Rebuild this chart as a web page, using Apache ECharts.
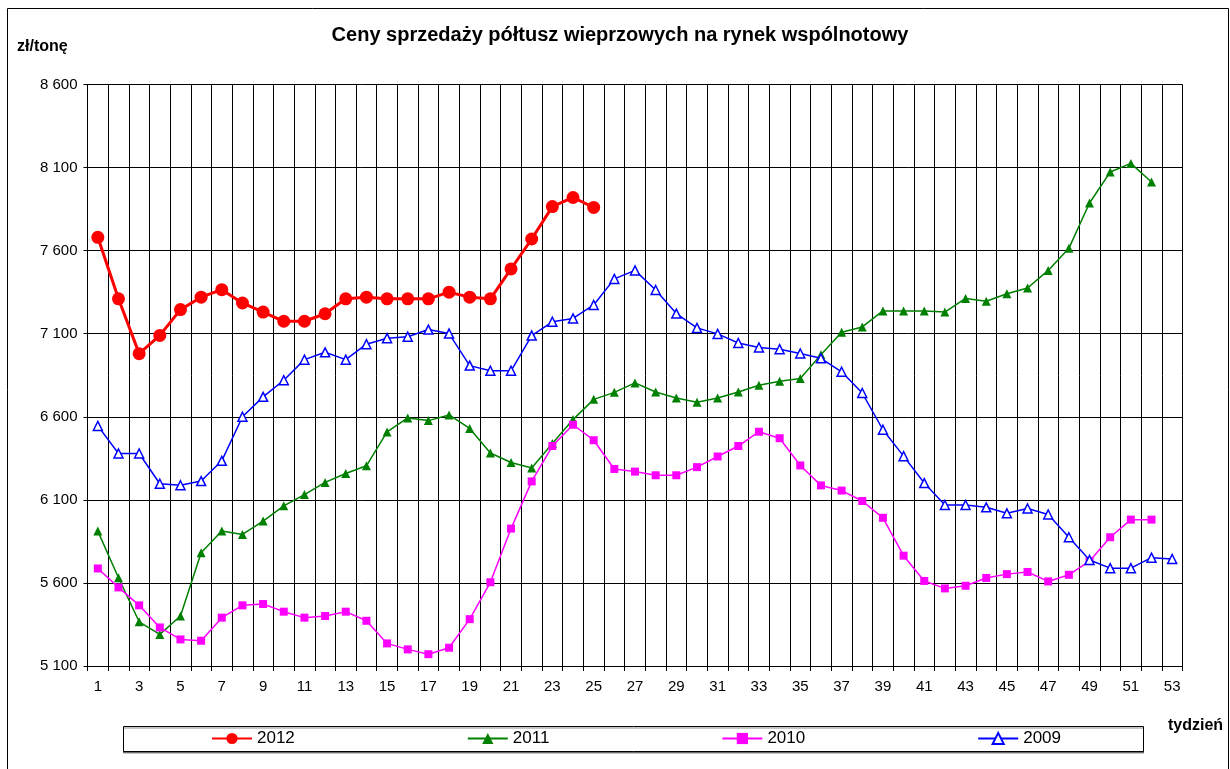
<!DOCTYPE html>
<html>
<head>
<meta charset="utf-8">
<script src="https://cdn.jsdelivr.net/npm/echarts@6/dist/echarts.min.js"></script>
<style>
html,body{margin:0;padding:0;background:#fff;}
#chart{width:1230px;height:769px;}
</style>
</head>
<body>
<div id="chart"></div>
<script>
const weeks = ['1','2','3','4','5','6','7','8','9','10','11','12','13','14','15','16','17','18','19','20','21','22','23','24','25','26','27','28','29','30','31','32','33','34','35','36','37','38','39','40','41','42','43','44','45','46','47','48','49','50','51','52','53'];

const s2012 = [7680, 7310, 6980, 7090, 7245, 7320, 7365, 7285, 7230, 7175, 7175, 7220, 7310, 7320, 7310, 7310, 7310, 7350, 7320, 7310, 7490, 7670, 7865, 7920, 7860];

const s2011 = [5912, 5631, 5366, 5290, 5401, 5781, 5912, 5892, 5972, 6064, 6132, 6205, 6259, 6305, 6509, 6593, 6577, 6611, 6530, 6382, 6325, 6292, 6439, 6583, 6705, 6747, 6804, 6749, 6713, 6688, 6713, 6749, 6790, 6814, 6831, 6973, 7109, 7141, 7237, 7237, 7237, 7230, 7312, 7295, 7341, 7375, 7481, 7614, 7887, 8073, 8125, 8013];

const s2010 = [5687, 5573, 5465, 5332, 5260, 5252, 5391, 5465, 5473, 5427, 5391, 5401, 5427, 5372, 5236, 5200, 5171, 5210, 5382, 5604, 5927, 6211, 6424, 6552, 6459, 6286, 6270, 6248, 6248, 6297, 6361, 6424, 6510, 6471, 6307, 6187, 6156, 6093, 5992, 5764, 5612, 5567, 5583, 5630, 5653, 5666, 5609, 5649, 5731, 5875, 5981, 5981];

const s2009 = [6545, 6379, 6379, 6197, 6188, 6213, 6335, 6600, 6720, 6820, 6944, 6988, 6944, 7037, 7073, 7082, 7125, 7101, 6908, 6877, 6877, 7089, 7172, 7192, 7273, 7430, 7481, 7363, 7221, 7135, 7099, 7044, 7017, 7007, 6981, 6952, 6871, 6743, 6522, 6363, 6201, 6069, 6069, 6055, 6019, 6048, 6012, 5875, 5738, 5689, 5689, 5752, 5744];

const seriesNames = ['2012', '2011', '2010', '2009'];
const titleText = 'Ceny sprzedaży półtusz wieprzowych na rynek wspólnotowy';
const yUnit = 'zł/tonę';
const xUnit = 'tydzień';

const FONT = '"Liberation Sans", Arial, sans-serif';
const chart = echarts.init(document.getElementById('chart'), null, {renderer: 'canvas'});

function fmt(v) {
  return String(v).replace(/\B(?=(\d{3})+(?!\d))/g, ' ');
}

chart.setOption({
  animation: false,
  backgroundColor: '#fff',
  textStyle: {fontFamily: FONT},
  grid: {left: 87.5, right: 47.5, top: 84.5, bottom: 103, containLabel: false},
  xAxis: {
    type: 'category',
    data: weeks,
    boundaryGap: true,
    axisLine: {show: true, lineStyle: {color: '#000', width: 1}},
    axisTick: {show: true, interval: 0, length: 5, lineStyle: {color: '#000'}},
    axisLabel: {interval: 1, margin: 13, color: '#000', fontSize: 15, fontFamily: FONT},
    splitLine: {show: true, interval: 0, lineStyle: {color: '#000', width: 1}}
  },
  yAxis: {
    type: 'value',
    min: 5100,
    max: 8600,
    interval: 500,
    axisLine: {show: true, lineStyle: {color: '#000', width: 1}},
    axisTick: {show: true, length: 4, lineStyle: {color: '#000'}},
    axisLabel: {margin: 10, color: '#000', fontSize: 15, fontFamily: FONT, formatter: fmt},
    splitLine: {show: true, lineStyle: {color: '#000', width: 1}}
  },
  legend: {
    left: 211,
    top: 730,
    padding: 0,
    itemWidth: 40,
    itemHeight: 14,
    itemGap: 172,
    textStyle: {fontSize: 17, color: '#000', fontFamily: FONT},
    data: seriesNames
  },
  graphic: [
    {type: 'rect', silent: true, z: -10, shape: {x: 7.5, y: 8.5, width: 1221, height: 800}, style: {fill: null, stroke: '#000', lineWidth: 1}},
    {type: 'rect', silent: true, z: -5, shape: {x: 123.5, y: 726.5, width: 1020, height: 25}, style: {fill: '#fff', stroke: '#000', lineWidth: 1, shadowColor: 'rgba(0,0,0,0.45)', shadowOffsetX: 0, shadowOffsetY: 1.5, shadowBlur: 0}},
    {type: 'text', silent: true, left: 'center', style: {text: ''}},
    {type: 'text', silent: true, x: 620, y: 35, style: {text: titleText, fontSize: 20, fontWeight: 'bold', fontFamily: FONT, fill: '#000', align: 'center', verticalAlign: 'middle'}},
    {type: 'text', silent: true, x: 17, y: 47, style: {text: yUnit, fontSize: 16, fontWeight: 'bold', fontFamily: FONT, fill: '#000', align: 'left', verticalAlign: 'middle'}},
    {type: 'text', silent: true, x: 1168, y: 726, style: {text: xUnit, fontSize: 16, fontWeight: 'bold', fontFamily: FONT, fill: '#000', align: 'left', verticalAlign: 'middle'}}
  ],
  series: [
    {
      name: '2012', type: 'line', data: s2012, z: 5,
      symbol: 'circle', symbolSize: 13,
      lineStyle: {color: '#FF0000', width: 3},
      itemStyle: {color: '#FF0000', borderColor: '#FF0000', borderWidth: 0}
    },
    {
      name: '2011', type: 'line', data: s2011, z: 2,
      symbol: 'triangle', symbolSize: 9,
      lineStyle: {color: '#008000', width: 1.5},
      itemStyle: {color: '#008000', borderColor: '#008000', borderWidth: 0}
    },
    {
      name: '2010', type: 'line', data: s2010, z: 3,
      symbol: 'rect', symbolSize: 8,
      lineStyle: {color: '#FF00FF', width: 1.5},
      itemStyle: {color: '#FF00FF', borderColor: '#FF00FF', borderWidth: 0}
    },
    {
      name: '2009', type: 'line', data: s2009, z: 4,
      symbol: 'triangle', symbolSize: 9,
      lineStyle: {color: '#0000FF', width: 1.5},
      itemStyle: {color: '#FFFFFF', borderColor: '#0000FF', borderWidth: 1.5}
    }
  ]
});
</script>
</body>
</html>
